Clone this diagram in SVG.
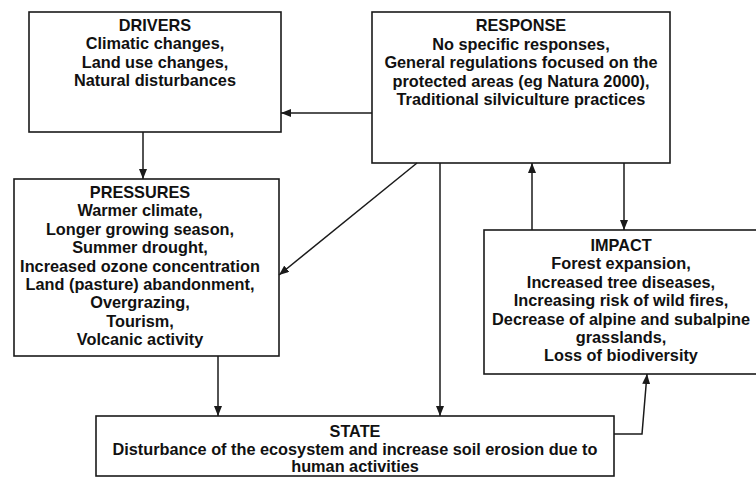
<svg xmlns="http://www.w3.org/2000/svg" width="756" height="477" viewBox="0 0 756 477">
<defs>
<style>
.box{fill:#fff;stroke:#1a1a1a;stroke-width:1.6}
.t{font-family:"Liberation Sans",Arial,sans-serif;font-weight:bold;font-size:16.3px;fill:#111;text-anchor:middle}
.c{fill:none;stroke:#1a1a1a;stroke-width:1.5}
</style>
<marker id="ah" viewBox="0 0 10 8" refX="10" refY="4" markerWidth="10" markerHeight="8" markerUnits="userSpaceOnUse" orient="auto">
<path d="M0,0 L10,4 L0,8 z" fill="#1a1a1a"/>
</marker>
</defs>
<rect width="756" height="477" fill="#fff"/>
<g id="drivers">
<rect class="box" x="29" y="12" width="252" height="120"/>
<text class="t" x="155" y="30.5">DRIVERS</text>
<text class="t" x="155" y="49">Climatic changes,</text>
<text class="t" x="155" y="67.5">Land use changes,</text>
<text class="t" x="155" y="86">Natural disturbances</text>
</g>
<g id="response">
<rect class="box" x="372" y="12" width="298" height="151"/>
<text class="t" x="521" y="31">RESPONSE</text>
<text class="t" x="521" y="49.5">No specific responses,</text>
<text class="t" x="521" y="68">General regulations focused on the</text>
<text class="t" x="521" y="86.5">protected areas (eg Natura 2000),</text>
<text class="t" x="521" y="105">Traditional silviculture practices</text>
</g>
<g id="pressures">
<rect class="box" x="14" y="179" width="265" height="177"/>
<text class="t" x="140" y="198">PRESSURES</text>
<text class="t" x="140" y="216.4">Warmer climate,</text>
<text class="t" x="140" y="234.8">Longer growing season,</text>
<text class="t" x="140" y="253.2">Summer drought,</text>
<text class="t" x="140" y="271.6">Increased ozone concentration</text>
<text class="t" x="140" y="290">Land (pasture) abandonment,</text>
<text class="t" x="140" y="308.4">Overgrazing,</text>
<text class="t" x="140" y="326.8">Tourism,</text>
<text class="t" x="140" y="345.2">Volcanic activity</text>
</g>
<g id="impact">
<rect class="box" x="484" y="230" width="280" height="144"/>
<text class="t" x="621" y="251">IMPACT</text>
<text class="t" x="621" y="269.4">Forest expansion,</text>
<text class="t" x="621" y="287.8">Increased tree diseases,</text>
<text class="t" x="621" y="306.2">Increasing risk of wild fires,</text>
<text class="t" x="621" y="324.6">Decrease of alpine and subalpine</text>
<text class="t" x="621" y="343">grasslands,</text>
<text class="t" x="621" y="361.4">Loss of biodiversity</text>
</g>
<g id="state">
<rect class="box" x="96" y="416" width="518" height="60"/>
<text class="t" x="355" y="437">STATE</text>
<text class="t" x="355" y="454.5">Disturbance of the ecosystem and increase soil erosion due to</text>
<text class="t" x="355" y="472">human activities</text>
</g>
<g id="connectors">
<line class="c" x1="372" y1="113" x2="281" y2="113" marker-end="url(#ah)"/>
<line class="c" x1="143" y1="132" x2="143" y2="179" marker-end="url(#ah)"/>
<line class="c" x1="417" y1="163" x2="279" y2="275" marker-end="url(#ah)"/>
<line class="c" x1="440" y1="163" x2="440" y2="416" marker-end="url(#ah)"/>
<line class="c" x1="532" y1="230" x2="532" y2="163" marker-end="url(#ah)"/>
<line class="c" x1="624" y1="163" x2="624" y2="230" marker-end="url(#ah)"/>
<line class="c" x1="218" y1="356" x2="218" y2="416" marker-end="url(#ah)"/>
<polyline class="c" points="614,434 642,434 647,374" marker-end="url(#ah)"/>
</g>
</svg>
